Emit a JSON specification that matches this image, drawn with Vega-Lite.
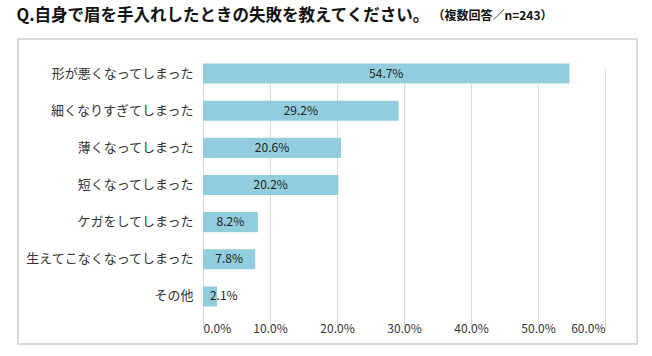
{
  "$schema": "https://vega.github.io/schema/vega-lite/v6.json",
  "width": 619,
  "height": 305,
  "autosize": {"type": "none"},
  "padding": {"left": 18, "top": 39, "right": 15, "bottom": 12},
  "background": "white",
  "data": {
    "values": [
      {"item": "形が悪くなってしまった", "value": 54.7},
      {"item": "細くなりすぎてしまった", "value": 29.2},
      {"item": "薄くなってしまった", "value": 20.6},
      {"item": "短くなってしまった", "value": 20.2},
      {"item": "ケガをしてしまった", "value": 8.2},
      {"item": "生えてこなくなってしまった", "value": 7.8},
      {"item": "その他", "value": 2.1}
    ]
  },
  "transform": [
    {"calculate": "max(datum.value / 2, 3.1)", "as": "mid"},
    {"calculate": "format(datum.value, '.1f') + '%'", "as": "label"}
  ],
  "encoding": {
    "y": {
      "field": "item",
      "type": "nominal",
      "sort": null,
      "scale": {"range": [16, 276], "paddingInner": 0.46, "paddingOuter": 0.23},
      "axis": {
        "title": "Q.自身で眉を手入れしたときの失敗を教えてください。",
        "titleAngle": 0,
        "titleAlign": "left",
        "titleBaseline": "middle",
        "titleX": -187,
        "titleY": -24,
        "titleFontSize": 16.5,
        "titleFontWeight": "bold",
        "titleFont": "Noto Sans CJK JP",
        "titleColor": "#111111",
        "offset": -185,
        "domain": false,
        "ticks": false,
        "grid": false,
        "labelPadding": 10,
        "labelFontSize": 13,
        "labelFont": "Noto Sans CJK JP",
        "labelColor": "#333333"
      }
    }
  },
  "layer": [
    {
      "mark": {"type": "bar", "color": "#92CDDD"},
      "encoding": {
        "x": {
          "field": "value",
          "type": "quantitative",
          "scale": {"domain": [0, 60], "range": [185, 587]},
          "axis": {
            "title": "（複数回答／n=243）",
            "titleAngle": 0,
            "titleAlign": "left",
            "titleBaseline": "middle",
            "titleX": 414,
            "titleY": -300,
            "titleFontSize": 12,
            "titleFontWeight": "bold",
            "titleFont": "Noto Sans CJK JP",
            "titleColor": "#111111",
            "values": [0, 10, 20, 30, 40, 50, 60],
            "labelExpr": "format(datum.value, '.1f') + '%'",
            "offset": -29,
            "domain": false,
            "ticks": false,
            "grid": true,
            "gridColor": "#d9d9d9",
            "gridWidth": 1,
            "labelPadding": 8,
            "labelFontSize": 12,
            "labelFont": "Noto Sans CJK JP",
            "labelColor": "#333333"
          }
        }
      }
    },
    {
      "mark": {"type": "text", "fontSize": 12, "font": "Noto Sans CJK JP", "color": "#222222", "align": "center", "baseline": "middle"},
      "encoding": {
        "x": {"field": "mid", "type": "quantitative"},
        "text": {"field": "label"}
      }
    }
  ],
  "config": {
    "view": {"stroke": "#d9d9d9", "strokeWidth": 2}
  }
}
